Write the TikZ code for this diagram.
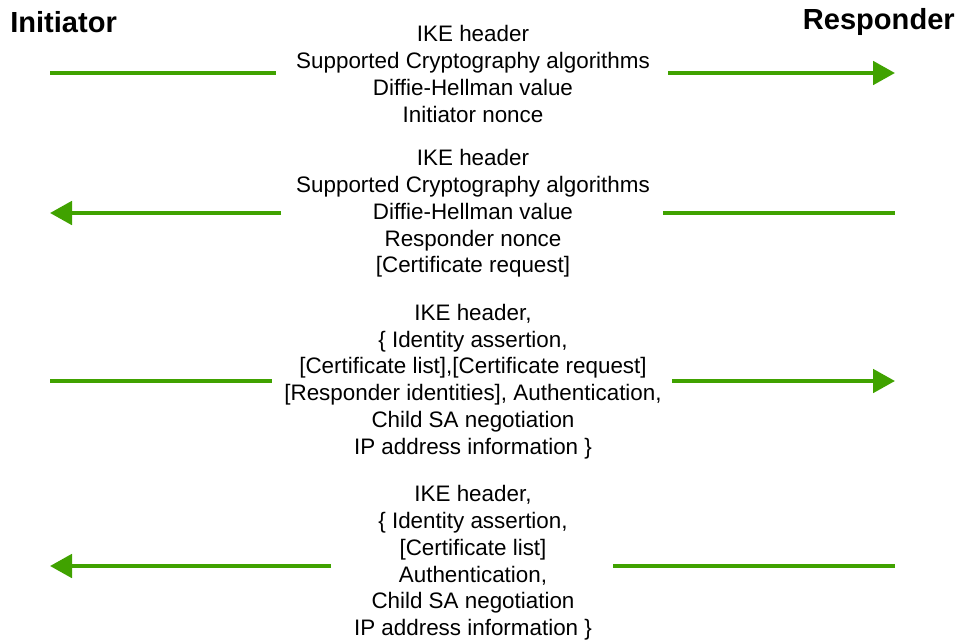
\documentclass[tikz,border=0pt]{standalone}
\usepackage{fontspec}
\setmainfont{Liberation Sans}
\usetikzlibrary{arrows.meta}
\definecolor{msggreen}{RGB}{64,162,0}
\begin{document}
\begin{tikzpicture}[x=0.75pt,y=-0.75pt,
  party/.style={font=\fontsize{21.8}{24}\selectfont\bfseries,inner sep=0pt},
  payload/.style={align=center,inner sep=0pt,font=\fontsize{16.8}{20.1}\selectfont},
  msg/.style={draw=msggreen,line width=3pt},
  msgarrow/.style={msg,-{Triangle[length=16.5pt,width=17.5pt]}}]
\useasboundingbox (0,0) rectangle (961,643);

% participants
\node[party,anchor=west] (init) at (10,22) {Initiator};
\node[party,anchor=east] (resp) at (955,22) {Responder};

% message payloads
\node[payload] (m1) at (473,74) {IKE header\\Supported Cryptography algorithms\\Diffie-Hellman value\\Initiator nonce};
\node[payload] (m2) at (473,213.5) {IKE header\\Supported Cryptography algorithms\\Diffie-Hellman value\\Responder nonce\\{[}Certificate request{]}};
\node[payload] (m3) at (473,381.5) {IKE header,\\\{ Identity assertion,\\{[}Certificate list{]},{[}Certificate request{]}\\{[}Responder identities{]}, Authentication,\\Child SA negotiation\\IP address information \}};
\node[payload] (m4) at (473,563) {IKE header,\\\{ Identity assertion,\\{[}Certificate list{]}\\Authentication,\\Child SA negotiation\\IP address information \}};

% end points of each message line
\coordinate (a1) at (50,73);   \coordinate (b1) at (276,73);
\coordinate (c1) at (668,73);  \coordinate (d1) at (895,73);
\coordinate (a2) at (50,213);  \coordinate (b2) at (281,213);
\coordinate (c2) at (663,213); \coordinate (d2) at (895,213);
\coordinate (a3) at (50,381);  \coordinate (b3) at (272,381);
\coordinate (c3) at (672,381); \coordinate (d3) at (895,381);
\coordinate (a4) at (50,566);  \coordinate (b4) at (331,566);
\coordinate (c4) at (613,566); \coordinate (d4) at (895,566);

% message 1: initiator -> responder
\draw[msg] (a1) -- (b1);
\draw[msgarrow] (c1) -- (d1);
% message 2: responder -> initiator
\draw[msgarrow] (b2) -- (a2);
\draw[msg] (c2) -- (d2);
% message 3: initiator -> responder
\draw[msg] (a3) -- (b3);
\draw[msgarrow] (c3) -- (d3);
% message 4: responder -> initiator
\draw[msgarrow] (b4) -- (a4);
\draw[msg] (c4) -- (d4);
\end{tikzpicture}
\end{document}
